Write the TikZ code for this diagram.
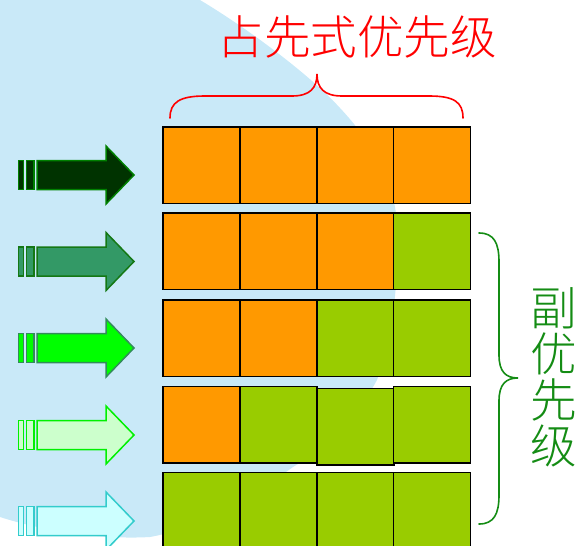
\documentclass[tikz,border=0pt]{standalone}
\usepackage{fontspec}
\IfFontExistsTF{Noto Sans CJK SC Light}{\newfontfamily\cjk{Noto Sans CJK SC Light}}{\newfontfamily\cjk{Noto Sans CJK SC}}
\definecolor{bgblue}{RGB}{201,233,248}
\definecolor{cellorange}{RGB}{255,153,0}
\definecolor{cellgreen}{RGB}{153,204,0}
\definecolor{bracegreen}{RGB}{20,140,20}
\definecolor{aone}{RGB}{0,51,0}
\definecolor{aonel}{RGB}{0,128,0}
\definecolor{atwo}{RGB}{51,153,102}
\definecolor{atwol}{RGB}{20,120,20}
\definecolor{athree}{RGB}{0,255,0}
\definecolor{athreel}{RGB}{51,140,90}
\definecolor{afour}{RGB}{204,255,204}
\definecolor{afourl}{RGB}{0,240,0}
\definecolor{afive}{RGB}{204,255,255}
\definecolor{afivel}{RGB}{51,204,204}
\tikzset{
  cellbox/.style={draw=black, line width=1.7pt, minimum width=77pt, minimum height=76.5pt, inner sep=0pt, outer sep=0pt, anchor=north west},
  ocell/.style={cellbox, fill=cellorange},
  gcell/.style={cellbox, fill=cellgreen},
  bracepath/.style={line width=1.6pt, line cap=round},
  arrowshape/.style={line width=1.5pt, line join=miter},
  cjktext/.style={inner sep=0pt, font=\cjk\fontsize{46.5}{46}\selectfont}
}
\begin{document}
\begin{tikzpicture}[x=1pt,y=-1pt]
\useasboundingbox (0,0) rectangle (576,546);
\clip (0,0) rectangle (576,546);
% background blob
\fill[bgblue] (0,0) -- (200,0)
  .. controls (250,30) and (310,75) .. (340,108)
  .. controls (370,140) and (395,180) .. (397,225)
  .. controls (399,270) and (395,330) .. (377,380)
  .. controls (355,420) and (330,445) .. (293,467)
  .. controls (240,505) and (190,530) .. (150,537)
  .. controls (100,540) and (40,530) .. (0,517) -- cycle;
% arrows
\foreach \cy/\fc/\dc in {175/aone/aonel, 261.5/atwo/atwol, 348/athree/athreel, 435/afour/afourl, 521/afive/afivel}{
  \filldraw[arrowshape, fill=\fc, draw=\dc] (18.5,\cy-14.5) rectangle (23.5,\cy+14.5);
  \filldraw[arrowshape, fill=\fc, draw=\dc] (26.5,\cy-14.5) rectangle (34,\cy+14.5);
  \filldraw[arrowshape, fill=\fc, draw=\dc] (37,\cy-14.5) -- (106,\cy-14.5) -- (106,\cy-29) -- (134,\cy) -- (106,\cy+29) -- (106,\cy+14.5) -- (37,\cy+14.5) -- cycle;
}
% grid rows
\node[ocell] (c11) at (163,127) {};
\node[ocell] (c12) at (240,127) {};
\node[ocell] (c13) at (317,127) {};
\node[ocell] (c14) at (393.5,127) {};
\node[ocell] (c21) at (163,213) {};
\node[ocell] (c22) at (240,213) {};
\node[ocell] (c23) at (317,213) {};
\node[gcell] (c24) at (393.5,213) {};
\node[ocell] (c31) at (163,300) {};
\node[ocell] (c32) at (240,300) {};
\node[gcell] (c33) at (317,300) {};
\node[gcell] (c34) at (393.5,300) {};
\node[ocell] (c41) at (163,386.5) {};
\node[gcell] (c42) at (240,386.5) {};
\node[gcell] (c43) at (317,388.5) {};
\node[gcell] (c44) at (393.5,386.5) {};
\node[gcell] (c51) at (163,472.5) {};
\node[gcell] (c52) at (240,472.5) {};
\node[gcell] (c53) at (317,472.5) {};
\node[gcell] (c54) at (393.5,472.5) {};
% red brace
\draw[bracepath, red] (170,118) .. controls (170,102) and (180,96) .. (205,96)
  -- (292,96) .. controls (310,96) and (317,88) .. (317,74)
  .. controls (317,88) and (324,96) .. (342,96)
  -- (429,96) .. controls (454,96) and (463,102) .. (463,118);
\node[cjktext, text=red] (t1) at (357,37) {占先式优先级};
% green brace
\draw[bracepath, bracegreen] (479,233) .. controls (494,233) and (499,243) .. (499,262)
  -- (499,355) .. controls (499,372) and (506,378) .. (518,378)
  .. controls (506,378) and (499,384) .. (499,401)
  -- (499,495) .. controls (499,514) and (494,524) .. (479,524);
\node[cjktext, text=bracegreen, align=center] (t2) at (553.5,377) {副\\优\\先\\级};
\end{tikzpicture}
\end{document}
